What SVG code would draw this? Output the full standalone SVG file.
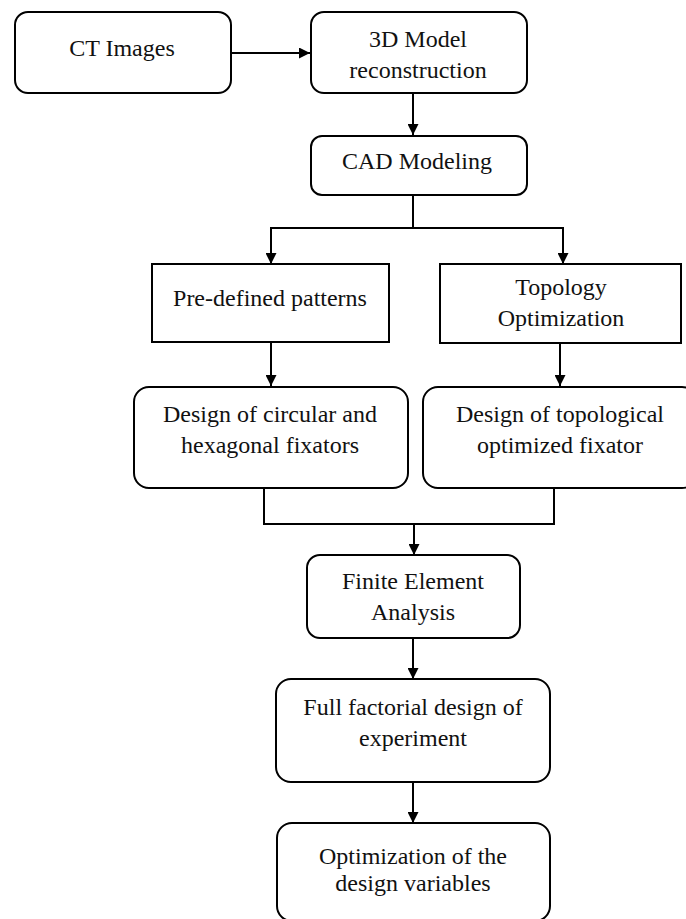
<svg xmlns="http://www.w3.org/2000/svg" width="686" height="919" viewBox="0 0 686 919">
<defs>
<style>
.box{fill:#fff;stroke:#000;stroke-width:2}
.t{font-family:"Liberation Serif","Times New Roman",serif;font-size:24px;fill:#111;text-anchor:middle}
.c{fill:none;stroke:#000;stroke-width:2}
</style>
<marker id="ah" markerWidth="11" markerHeight="11" viewBox="0 0 11 11" refX="11" refY="5.5" orient="auto" markerUnits="userSpaceOnUse">
<path d="M0,0 L11,5.5 L0,11 z" fill="#000"/>
</marker>
</defs>
<rect width="686" height="919" fill="#fff"/>
<g id="connectors">
<line class="c" x1="231" y1="53" x2="310" y2="53" marker-end="url(#ah)"/>
<line class="c" x1="413" y1="93" x2="413" y2="135" marker-end="url(#ah)"/>
<polyline class="c" points="413,195 413,228"/>
<polyline class="c" points="271,228 563,228"/>
<line class="c" x1="271" y1="227" x2="271" y2="264" marker-end="url(#ah)"/>
<line class="c" x1="563" y1="227" x2="563" y2="264" marker-end="url(#ah)"/>
<line class="c" x1="271" y1="342" x2="271" y2="386" marker-end="url(#ah)"/>
<line class="c" x1="560" y1="343" x2="560" y2="386" marker-end="url(#ah)"/>
<polyline class="c" points="264,488 264,524 554,524 554,488"/>
<line class="c" x1="414" y1="524" x2="414" y2="555" marker-end="url(#ah)"/>
<line class="c" x1="413" y1="638" x2="413" y2="679" marker-end="url(#ah)"/>
<line class="c" x1="413" y1="782" x2="413" y2="823" marker-end="url(#ah)"/>
</g>
<g id="ct">
<rect class="box" x="15" y="12" width="216" height="81" rx="13"/>
<text class="t" x="122" y="56">CT Images</text>
</g>
<g id="model3d">
<rect class="box" x="311" y="12" width="216" height="81" rx="13"/>
<text class="t" x="418" y="47">3D Model</text>
<text class="t" x="418" y="78">reconstruction</text>
</g>
<g id="cad">
<rect class="box" x="311" y="136" width="216" height="59" rx="11"/>
<text class="t" x="417" y="169">CAD Modeling</text>
</g>
<g id="predefined">
<rect class="box" x="152" y="264" width="237" height="78"/>
<text class="t" x="270" y="306">Pre-defined patterns</text>
</g>
<g id="topology">
<rect class="box" x="440" y="264" width="241" height="79"/>
<text class="t" x="561" y="295">Topology</text>
<text class="t" x="561" y="326">Optimization</text>
</g>
<g id="designcirc">
<rect class="box" x="134" y="387" width="274" height="101" rx="15"/>
<text class="t" x="270" y="422">Design of circular and</text>
<text class="t" x="270" y="453">hexagonal fixators</text>
</g>
<g id="designtopo">
<rect class="box" x="423" y="387" width="274" height="101" rx="15"/>
<text class="t" x="560" y="422">Design of topological</text>
<text class="t" x="560" y="453">optimized fixator</text>
</g>
<g id="fea">
<rect class="box" x="307" y="555" width="213" height="83" rx="13"/>
<text class="t" x="413" y="589">Finite Element</text>
<text class="t" x="413" y="620">Analysis</text>
</g>
<g id="factorial">
<rect class="box" x="276" y="679" width="274" height="103" rx="15"/>
<text class="t" x="413" y="715">Full factorial design of</text>
<text class="t" x="413" y="746">experiment</text>
</g>
<g id="optim">
<rect class="box" x="277" y="823" width="273" height="98" rx="15"/>
<text class="t" x="413" y="864">Optimization of the</text>
<text class="t" x="413" y="891">design variables</text>
</g>
</svg>
